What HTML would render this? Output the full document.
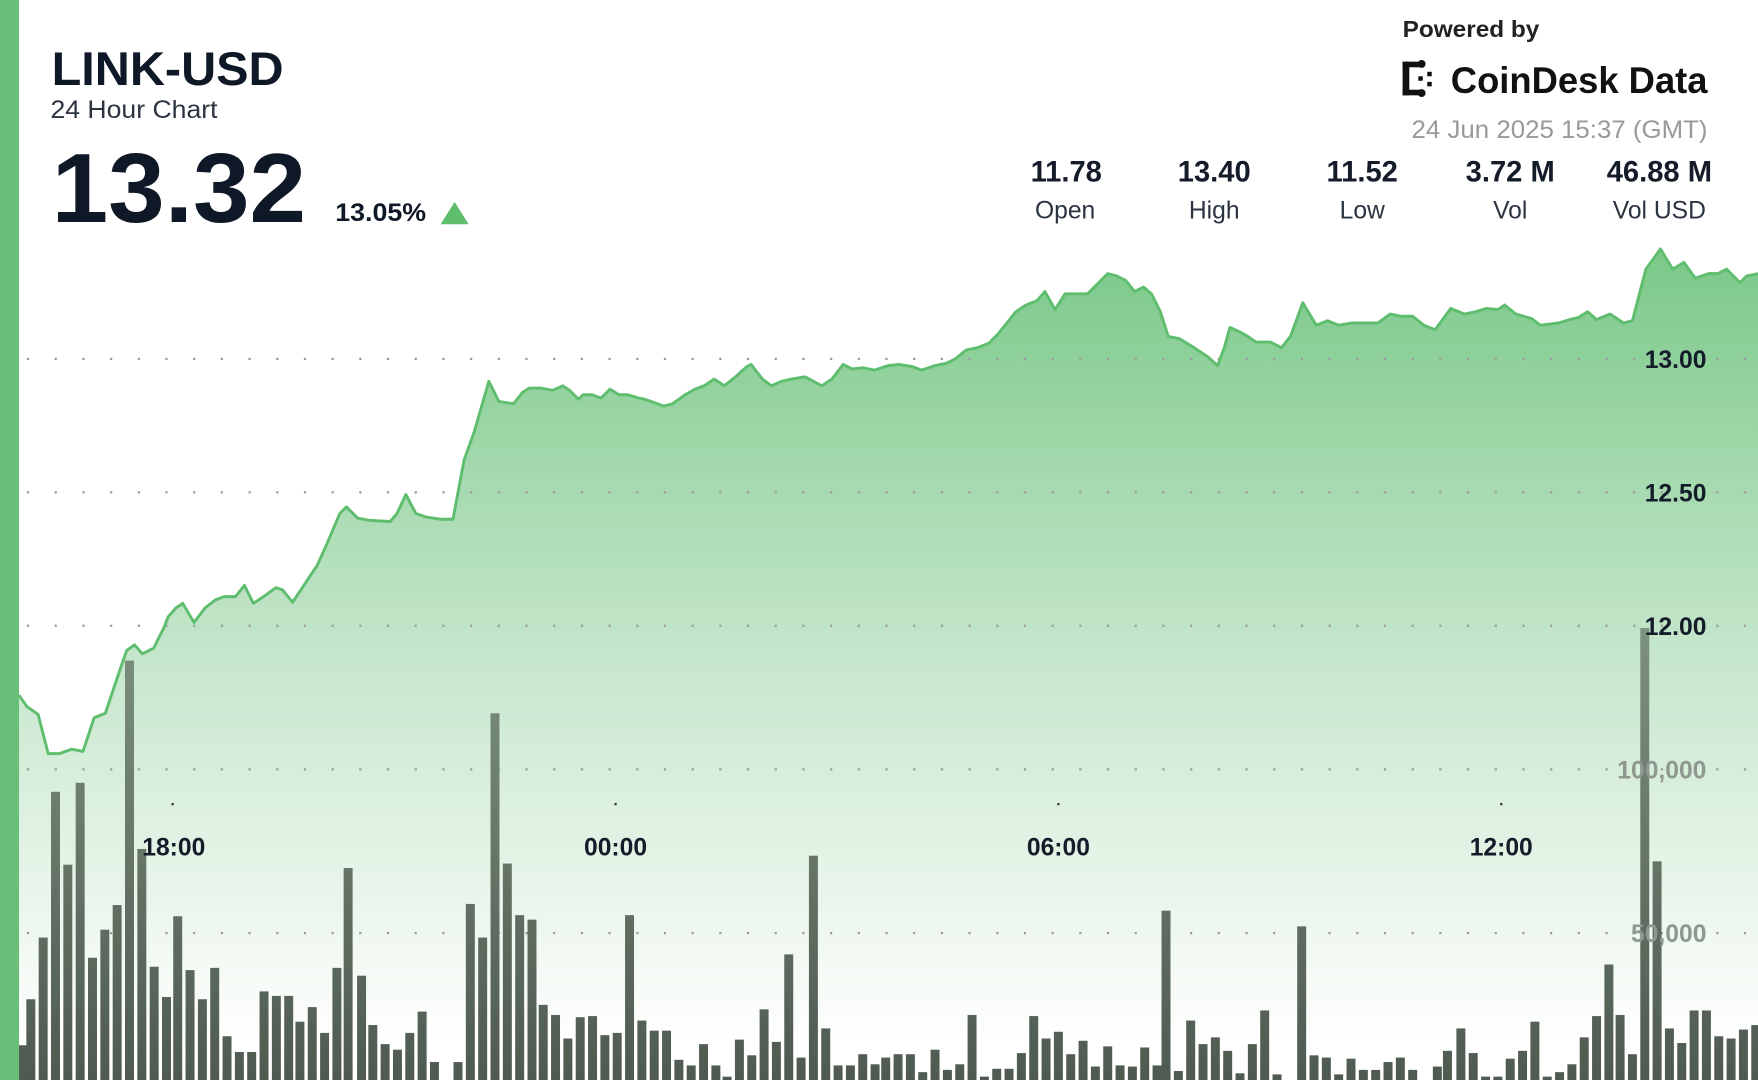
<!DOCTYPE html>
<html><head><meta charset="utf-8"><style>html,body{margin:0;padding:0;background:#fff;overflow:hidden}svg{display:block}text{font-family:"Liberation Sans",sans-serif}</style></head><body>
<svg width="1758" height="1080" viewBox="0 0 1568 963" preserveAspectRatio="none" xmlns="http://www.w3.org/2000/svg">
<defs>
<linearGradient id="ag" gradientUnits="userSpaceOnUse" x1="0" y1="230" x2="0" y2="930">
<stop offset="0" stop-color="#7cc98a"/><stop offset="0.5" stop-color="#c5e6cb"/><stop offset="1" stop-color="#ffffff"/>
</linearGradient>
<linearGradient id="bg" gradientUnits="userSpaceOnUse" x1="0" y1="560" x2="0" y2="963">
<stop offset="0" stop-color="#7d9180"/><stop offset="1" stop-color="#4f5a50"/>
</linearGradient>
</defs>
<rect width="1568" height="963" fill="#fff"/>
<path fill="url(#ag)" d="M17,620 L24,630 L34,637 L43,672 L53,672 L64,668 L74,670 L84,640 L94,636 L104,606 L113,580 L120,575 L127,583 L137,578 L146,560 L150,550 L157,542 L163,538 L173,555 L183,542 L192,535 L200,532 L210,532 L218,522 L226,538 L235,532 L246,524 L252,526 L261,537 L269,525 L283,504 L292,484 L303,458 L309,452 L319,462 L330,464 L348,465 L354,458 L362,441 L371,458 L380,461 L393,463 L404,463 L414,410 L423,385 L436,340 L445,358 L458,360 L466,350 L472,346 L482,346 L493,348 L502,344 L508,348 L516,356 L520,352 L528,352 L536,355 L544,347 L552,352 L560,352 L570,355 L575,356 L592,362 L600,360 L611,352 L620,347 L628,344 L637,338 L646,344 L656,336 L666,327 L670,325 L680,338 L688,344 L697,340 L706,338 L718,336 L733,344 L742,338 L752,325 L760,329 L770,328 L780,330 L792,326 L802,325 L814,327 L822,330 L834,326 L844,324 L852,320 L862,312 L872,310 L882,306 L890,298 L898,288 L906,278 L915,272 L925,268 L932,260 L941,276 L950,262 L960,262 L970,262 L977,255 L988,244 L996,246 L1004,250 L1012,260 L1020,256 L1027,262 L1035,278 L1042,300 L1052,302 L1065,310 L1077,318 L1086,326 L1092,310 L1097,292 L1106,296 L1113,300 L1120,305 L1133,305 L1143,310 L1151,300 L1162,270 L1174,290 L1184,286 L1194,290 L1206,288 L1220,288 L1229,288 L1240,280 L1250,282 L1260,282 L1270,290 L1280,294 L1294,275 L1306,280 L1316,278 L1326,275 L1336,276 L1342,272 L1352,280 L1366,284 L1374,290 L1390,288 L1400,285 L1408,283 L1416,278 L1424,285 L1436,280 L1448,288 L1456,286 L1468,240 L1481,222 L1492,240 L1502,234 L1512,248 L1524,244 L1532,244 L1540,240 L1552,252 L1558,246 L1568,244 L1568,963 L17,963 Z"/>
<g stroke="#9c9c9c" stroke-width="2" stroke-dasharray="2 22.7" fill="none">
<line x1="24" y1="320" x2="1568" y2="320"/>
<line x1="24" y1="439" x2="1568" y2="439"/>
<line x1="24" y1="558" x2="1568" y2="558"/>
<line x1="24" y1="686" x2="1568" y2="686"/>
<line x1="24" y1="832" x2="1568" y2="832"/>
</g>
<g fill="#333"><rect x="153" y="716" width="2" height="2"/><rect x="548" y="716" width="2" height="2"/><rect x="943" y="716" width="2" height="2"/><rect x="1338" y="716" width="2" height="2"/></g>
<g fill="url(#bg)" id="bars"></g>
<path fill="none" stroke="#5fbd6e" stroke-width="2.6" stroke-linejoin="round" d="M17,620 L24,630 L34,637 L43,672 L53,672 L64,668 L74,670 L84,640 L94,636 L104,606 L113,580 L120,575 L127,583 L137,578 L146,560 L150,550 L157,542 L163,538 L173,555 L183,542 L192,535 L200,532 L210,532 L218,522 L226,538 L235,532 L246,524 L252,526 L261,537 L269,525 L283,504 L292,484 L303,458 L309,452 L319,462 L330,464 L348,465 L354,458 L362,441 L371,458 L380,461 L393,463 L404,463 L414,410 L423,385 L436,340 L445,358 L458,360 L466,350 L472,346 L482,346 L493,348 L502,344 L508,348 L516,356 L520,352 L528,352 L536,355 L544,347 L552,352 L560,352 L570,355 L575,356 L592,362 L600,360 L611,352 L620,347 L628,344 L637,338 L646,344 L656,336 L666,327 L670,325 L680,338 L688,344 L697,340 L706,338 L718,336 L733,344 L742,338 L752,325 L760,329 L770,328 L780,330 L792,326 L802,325 L814,327 L822,330 L834,326 L844,324 L852,320 L862,312 L872,310 L882,306 L890,298 L898,288 L906,278 L915,272 L925,268 L932,260 L941,276 L950,262 L960,262 L970,262 L977,255 L988,244 L996,246 L1004,250 L1012,260 L1020,256 L1027,262 L1035,278 L1042,300 L1052,302 L1065,310 L1077,318 L1086,326 L1092,310 L1097,292 L1106,296 L1113,300 L1120,305 L1133,305 L1143,310 L1151,300 L1162,270 L1174,290 L1184,286 L1194,290 L1206,288 L1220,288 L1229,288 L1240,280 L1250,282 L1260,282 L1270,290 L1280,294 L1294,275 L1306,280 L1316,278 L1326,275 L1336,276 L1342,272 L1352,280 L1366,284 L1374,290 L1390,288 L1400,285 L1408,283 L1416,278 L1424,285 L1436,280 L1448,288 L1456,286 L1468,240 L1481,222 L1492,240 L1502,234 L1512,248 L1524,244 L1532,244 L1540,240 L1552,252 L1558,246 L1568,244"/>
<g font-weight="bold" font-size="22" fill="#141c2a" text-anchor="middle">
<text x="155" y="763">18:00</text><text x="549" y="763">00:00</text><text x="944" y="763">06:00</text><text x="1339" y="763">12:00</text>
</g>
<g font-weight="bold" font-size="22" fill="#141c2a" text-anchor="end">
<text x="1522" y="328">13.00</text><text x="1522" y="447">12.50</text><text x="1522" y="566">12.00</text>
</g>
<g font-weight="bold" font-size="22" fill="#8e9890" text-anchor="end">
<text x="1522" y="694">100,000</text><text x="1522" y="840">50,000</text>
</g>
<rect x="0" y="0" width="17" height="963" fill="#69bf77"/>
<text x="46" y="76" font-size="42" font-weight="bold" fill="#0f1826" textLength="207" lengthAdjust="spacingAndGlyphs">LINK-USD</text>
<text x="45" y="105" font-size="22" fill="#2b3340" textLength="149" lengthAdjust="spacingAndGlyphs">24 Hour Chart</text>
<text x="46" y="198" font-size="88" font-weight="bold" fill="#0f1826" textLength="227" lengthAdjust="spacingAndGlyphs">13.32</text>
<text x="299" y="197" font-size="22" font-weight="bold" fill="#0f1826" textLength="81" lengthAdjust="spacingAndGlyphs">13.05%</text>
<polygon points="393,200 418,200 405.5,180" fill="#5fbd6e"/>
<text x="1251" y="33" font-size="21" font-weight="bold" fill="#222" textLength="122" lengthAdjust="spacingAndGlyphs">Powered by</text>
<g fill="#111">
<rect x="1251" y="55" width="6" height="30"/><rect x="1251" y="55" width="16" height="5"/><rect x="1251" y="80" width="16" height="5"/>
<circle cx="1268" cy="57" r="3.5"/><circle cx="1268" cy="83" r="3.5"/><rect x="1273" y="64" width="4" height="4"/><rect x="1273" y="73" width="4" height="4"/><rect x="1265" y="68" width="4" height="4"/>
</g>
<text x="1294" y="83" font-size="33" font-weight="bold" fill="#111" textLength="229" lengthAdjust="spacingAndGlyphs">CoinDesk Data</text>
<text x="1523" y="123" font-size="22" fill="#999" text-anchor="end" textLength="264" lengthAdjust="spacingAndGlyphs">24 Jun 2025 15:37 (GMT)</text>
<g font-size="26" font-weight="bold" fill="#141c2a" text-anchor="middle">
<text x="951" y="162">11.78</text><text x="1083" y="162">13.40</text><text x="1215" y="162">11.52</text><text x="1347" y="162">3.72 M</text><text x="1480" y="162">46.88 M</text>
</g>
<g font-size="22" fill="#2b3340" text-anchor="middle">
<text x="950" y="195">Open</text><text x="1083" y="195">High</text><text x="1215" y="195">Low</text><text x="1347" y="195">Vol</text><text x="1480" y="195">Vol USD</text>
</g>
</svg>
<script>
var d=[[20,932],[27.5,891],[38.5,836],[49.5,706],[60.5,771],[71.5,698],[82.5,854],[93.5,829],[104.5,807],[115.5,589],[126.5,757],[137.5,862],[148.5,889],[158.5,817],[169.5,865],[180.5,891],[191.5,863],[202.5,924],[213.5,938],[224.5,938],[235.5,884],[246.5,888],[257.5,888],[267.5,911],[278.5,898],[289.5,921],[300.5,863],[310.5,774],[322.5,870],[332.5,914],[343.5,931],[354.5,936],[365.5,921],[376.5,902],[387.5,947],[408.5,947],[419.5,806],[430.5,836],[441.5,636],[452.5,770],[463.5,816],[474.5,820],[484.5,896],[495.5,905],[506.5,926],[517.5,907],[528.5,906],[539.5,923],[550.5,921],[561.5,816],[572.5,910],[583.5,919],[594.5,919],[605.5,945],[616.5,950],[627.5,931],[638.5,950],[648.5,960],[659.5,927],[670.5,941],[681.5,900],[692.5,929],[703.5,851],[714.5,943],[725.5,763],[736.5,917],[747.5,950],[758.5,950],[769.5,940],[780.5,949],[790,943],[801,940],[812,940],[823,956],[834,936],[845,954],[856,949],[867,905],[878,960],[889,953],[900,953],[911,939],[922,906],[933,926],[944,920],[955,940],[966,928],[977,951],[988,933],[999,950],[1010,951],[1021,934],[1032,950],[1040,812],[1051,955],[1062,910],[1073,931],[1084,925],[1095,937],[1106,957],[1117,931],[1128,901],[1139,958],[1161,826],[1172,941],[1183,943],[1194,958],[1205,944],[1216,954],[1227,954],[1238,947],[1249,943],[1260,954],[1282,951],[1291,937],[1303,917],[1314,939],[1325,960],[1336,960],[1347,944],[1358,937],[1369,911],[1380,960],[1391,956],[1402,949],[1413,925],[1424,906],[1435,860],[1445,905],[1456,940],[1467,560],[1478,768],[1489,917],[1500,930],[1511,901],[1522,901],[1533,924],[1544,926],[1555,918],[1566,914]];
var g=document.getElementById('bars'),s='';
d.forEach(function(p){s+='<rect x="'+(p[0]-4)+'" y="'+p[1]+'" width="8" height="'+(963-p[1])+'"/>';});
g.innerHTML=s;
</script>
</body></html>
